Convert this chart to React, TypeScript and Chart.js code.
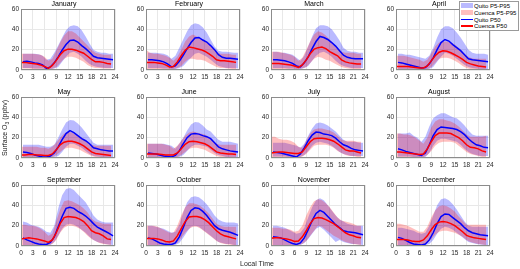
import React, { useEffect, useRef } from "react";
import { Chart, registerables } from "chart.js";
Chart.register(...registerables);

const months = ["January", "February", "March", "April", "May", "June", "July", "August", "September", "October", "November", "December"];
const quitoHours = [0.5, 1.5, 2.5, 3.5, 4.5, 5.5, 6.5, 7.5, 8.5, 9.5, 10.5, 11.5, 12.5, 13.5, 14.5, 15.5, 16.5, 17.5, 18.5, 19.5, 20.5, 21.5, 22.5, 23.5];
const cuencaHours = [0, 1, 2, 3, 4, 5, 6, 7, 8, 9, 10, 11, 12, 13, 14, 15, 16, 17, 18, 19, 20, 21, 22, 23];
const xTickStep = 3;
const yTickStep = 20;
const legendLabels = ["Quito P5-P95", "Cuenca P5-P95", "Quito P50", "Cuenca P50"];

const quitoP50 = [
  [8, 8.5, 8, 7, 6.5, 5, 1.5, 3, 7, 13, 19.5, 25, 29, 29.5, 27.5, 24, 21, 17.5, 13.5, 12, 11.5, 11, 10.5, 10],
  [10, 10, 9.5, 9, 8, 6, 3, 4, 8.5, 14.5, 21, 27, 31.5, 32, 29.5, 27.5, 24, 20, 15, 12.5, 11.5, 11.5, 11, 10.5],
  [10, 10, 9.5, 9, 8, 6.5, 4, 3, 7, 13, 21, 28, 33, 32, 30, 27, 23.5, 19, 14.5, 12.5, 11.5, 11, 11, 11],
  [7.5, 7, 6, 5, 4, 3, 2, 2.5, 6, 12, 20, 27, 30, 28.5, 25, 22, 19, 15, 11, 10, 9.5, 9, 8.5, 8],
  [6, 5.5, 4.5, 3, 2, 1, 1, 2, 5, 11, 18, 24, 27, 25, 22, 19, 17, 14, 10, 9, 8, 7.5, 7, 7],
  [5, 4.5, 4, 3, 2, 1.5, 1, 2.5, 7, 14, 20, 23.5, 24, 23.5, 22, 21, 19, 15, 11, 9, 8, 7, 6.5, 6],
  [6, 5.5, 5, 4, 3, 2, 1, 4, 10, 17, 22.5, 25.5, 25, 23.5, 23, 22, 19.5, 16, 13, 11.5, 9.5, 8, 7.5, 7],
  [9, 8, 6.5, 5.5, 4.5, 3.5, 2.5, 5, 13, 22, 28, 30.5, 30, 29.5, 29, 28, 26, 23, 19, 15.5, 13, 12, 10.5, 10],
  [8, 6, 4.5, 3, 2, 1.5, 1.5, 3.5, 9, 19, 29, 37, 38, 37, 34, 32, 29.5, 26, 22, 18.5, 16.5, 14.5, 12.5, 10],
  [8, 7, 5, 3, 2, 1.5, 1.5, 3, 9, 18, 28, 35, 37.5, 37, 34, 30, 25, 20, 17, 15.5, 14.5, 13.5, 12, 10.5],
  [9, 8.5, 8, 6, 4, 2.5, 1.5, 3, 8, 16, 25, 32, 35, 33, 29, 25, 21, 18, 15, 14, 13.5, 13, 12, 11],
  [8.5, 7.5, 5.5, 3.5, 2, 1.5, 1, 2, 6, 13, 22, 29, 31.5, 31, 28, 25, 22, 18, 15, 13, 12, 11, 10.5, 10],
];
const quitoP95 = [
  [16, 16, 16, 16, 15.5, 14, 10, 11, 17, 24, 32, 39, 43, 44, 43, 39, 33, 26, 20, 18, 17, 17, 16, 16],
  [17, 17, 17, 16.5, 16, 14.5, 11, 14, 22, 30, 38, 44, 46, 45, 42, 37, 30, 23, 19, 18, 18, 17.5, 17, 17],
  [18, 18, 17, 17, 16, 15, 12, 9, 14, 23, 33, 41, 44, 44, 43, 40, 35, 29, 22, 19, 18, 18, 17, 17],
  [16, 16, 15, 15, 14, 13, 12, 11, 14, 22, 32, 40, 43, 43, 41, 37, 32, 26, 20, 17, 16, 16, 16, 15],
  [13, 13, 13, 13, 13, 12, 11, 11, 13, 20, 28, 35, 37.5, 37, 34, 30, 25, 20, 15, 13, 13, 13, 13, 13],
  [14, 14, 14, 14, 14, 13, 12, 9, 14, 20, 27, 33, 35.5, 35, 32, 28, 26, 22, 18, 16, 16, 16, 15, 14],
  [15, 15, 15, 15, 14, 13, 12, 10, 14, 22, 29, 34, 35, 34, 32, 29, 26, 22, 18, 16, 16, 16, 15, 15],
  [24, 24, 24, 25, 22, 20, 16, 21, 31, 39, 42, 44, 44, 42, 40, 39, 36, 32, 27, 23, 22, 22, 22, 22],
  [24, 23, 21, 20, 19, 17, 14, 13, 20, 37, 50, 56, 57, 55, 51, 47, 43, 37, 30, 26, 24, 23, 23, 23],
  [20, 20, 19, 18, 17, 15, 13, 14, 21, 33, 43, 48, 49, 48, 45, 41, 36, 30, 26, 24, 23, 23, 23, 22],
  [20, 20, 19, 18, 16, 14, 12, 13, 18, 28, 38, 45, 47, 45, 40, 35, 30, 26, 24, 22, 21, 20, 20, 20],
  [18, 18, 17, 16, 15, 13, 12, 13, 20, 30, 40, 46, 47, 45, 41, 36, 30, 24, 20, 19, 19, 19, 19, 19],
];
const quitoP5 = [
  [2, 2, 2, 1.5, 1.5, 1.5, 1, 1, 1.5, 3, 8, 13, 17, 18, 16, 13, 9, 6, 4, 3, 2.5, 2, 2, 2],
  [2, 2, 2, 2, 1.5, 1.5, 1, 1, 2, 4, 8, 12, 16, 17, 15, 13, 10, 7, 4, 3, 2, 2, 2, 1.5],
  [2, 2, 2, 2, 1.5, 1.5, 1, 1, 2, 4, 9, 14, 17, 18, 16, 13, 9, 6, 4, 3, 2, 2, 2, 2],
  [1, 1, 1, 1, 1, 1, 0.5, 0.5, 1, 3, 8, 13, 17, 16, 14, 11, 8, 5, 3, 2, 1.5, 1, 1, 1],
  [1, 1, 1, 1, 0.5, 0.5, 0.5, 0.5, 1, 2, 6, 11, 14, 14, 12, 10, 7, 4, 2, 1.5, 1, 1, 1, 1],
  [1, 1, 1, 1, 0.5, 0.5, 0.5, 0.5, 1, 3, 7, 11, 13, 13, 12, 11, 8, 5, 3, 2, 1, 1, 1, 1],
  [1.5, 1.5, 1.5, 1.5, 1, 1, 1, 1, 3, 7, 12, 15, 16, 15, 14, 12, 9, 6, 4, 3, 2, 2, 2, 2],
  [1.5, 1.5, 1.5, 1.5, 1, 1, 1, 1, 5, 12, 17, 19, 19, 18, 17, 16, 13, 9, 6, 4, 3, 2, 2, 2],
  [1, 1, 1, 1, 1, 1, 1, 1, 4, 10, 17, 21, 22, 21, 19, 16, 13, 9, 6, 4, 3, 2, 1.5, 1],
  [1, 1, 1, 1, 1, 1, 1, 1, 3, 8, 14, 19, 20, 19, 16, 13, 10, 7, 4, 3, 2, 2, 1, 1],
  [1, 1, 1, 1, 1, 1, 1, 1, 3, 7, 12, 17, 19, 16, 12, 8, 4, 6, 4, 3, 2, 2, 1.5, 1],
  [1, 1, 1, 1, 1, 1, 1, 1, 2, 6, 12, 17, 19, 18, 16, 13, 10, 7, 4, 3, 2, 1.5, 1, 1],
];
const cuencaP50 = [
  [7.5, 7.5, 7, 6.5, 6, 5, 3.5, 1.5, 4.5, 9.5, 15, 19, 20.5, 20.5, 19.5, 18, 16.5, 13.5, 10.5, 8, 8, 7.5, 6.5, 6],
  [7.5, 7.5, 7.5, 7, 6.5, 5, 3, 3.5, 8, 14, 19.5, 22.5, 22, 21, 20, 18.5, 16, 13.5, 10, 9, 9, 8.5, 8, 7.5],
  [6.5, 6.5, 6.5, 6, 5.5, 5, 4, 2.5, 5, 10, 16, 20.5, 22, 22.5, 21, 18, 16, 14, 10, 8, 7, 6.5, 6, 6],
  [3.5, 3.5, 3.5, 3.5, 3, 2.5, 2, 2, 4, 9, 14, 17.5, 19, 18.5, 17, 15, 13, 10.5, 7.5, 6, 5, 4, 3.5, 3],
  [3, 3, 3.5, 3.5, 3, 3, 2.5, 2.5, 4, 8, 13, 15.5, 16.5, 16.5, 15.5, 14, 12, 9, 6, 4.5, 4, 3.5, 3, 2.5],
  [4, 4, 4, 4, 3.5, 3, 3, 3, 5, 9, 13.5, 16, 16.5, 16, 15, 14, 12, 9, 6, 5, 4.5, 4, 4, 3.5],
  [5, 5.5, 6, 6, 5.5, 5, 4.5, 4.5, 6, 11, 16, 19, 19.5, 19.5, 19, 18, 16.5, 14, 11, 8, 7, 7, 6, 5],
  [6, 6, 5.5, 5, 4.5, 4, 3.5, 4, 9, 16, 22, 24.5, 24.5, 24.5, 24, 22, 20, 17, 13, 10.5, 10, 9, 7, 6],
  [7, 7.5, 8, 7.5, 7, 6, 5, 3.5, 6, 13, 22, 28, 29, 28.5, 28, 26.5, 24, 20, 15, 13, 12, 10, 7, 6.5],
  [7.5, 7.5, 7.5, 7, 6, 4.5, 4, 5, 10, 17, 24, 28.5, 29, 29, 28, 26, 23, 19, 15, 12, 10, 9, 8, 7],
  [7.5, 8, 8, 7.5, 7, 6, 4.5, 5, 9, 15, 22, 27, 28, 27.5, 26, 24, 22, 19, 16, 13, 11, 10, 8.5, 8],
  [6.5, 6.5, 6.5, 6, 5, 4.5, 4.5, 6, 10, 16, 21, 23.5, 24, 23.5, 22, 20, 17, 14, 10.5, 9, 8, 7.5, 7, 6.5],
];
const cuencaP95 = [
  [16, 16, 16, 16, 15.5, 15, 13, 9, 11, 19, 27, 34, 38, 38, 36, 32, 28, 24, 20, 17, 16, 15, 15, 15],
  [20, 17, 16, 16, 15, 14, 12, 9, 13, 20, 28, 33, 35, 33, 31, 29, 26, 22, 18, 16, 16, 16, 15, 15],
  [18, 18, 18, 17, 16, 15, 13, 9, 12, 20, 28, 35, 38, 37, 34, 30, 26, 22, 18, 17, 17, 17, 16, 16],
  [14, 14, 14, 13, 12, 11, 10, 8, 10, 16, 23, 27, 28, 28, 27, 25, 22, 18, 14, 12, 11, 11, 11, 11],
  [11, 11, 11, 11, 11, 10, 10, 9, 11, 15, 20, 24, 26, 25, 23, 21, 19, 16, 13, 12, 12, 12, 12, 12],
  [14, 14, 14, 14, 14, 13, 12, 9, 12, 17, 22, 25, 26, 25, 24, 23, 21, 18, 14, 13, 13, 13, 13, 13],
  [21, 21, 19, 18, 18, 17, 15, 11, 10, 17, 24, 28, 29, 29, 28, 27, 25, 22, 18, 17, 17, 17, 16, 16],
  [24, 24, 23, 23, 22, 20, 17, 14, 20, 30, 36, 38, 38, 37, 36, 34, 31, 27, 23, 21, 21, 21, 21, 22],
  [21, 21, 20, 20, 19, 17, 14, 10, 12, 24, 36, 44, 45, 44, 42, 40, 37, 33, 27, 24, 23, 22, 22, 22],
  [20, 20, 20, 19, 17, 15, 13, 13, 20, 30, 38, 42, 42, 41, 39, 36, 32, 27, 22, 20, 19, 19, 19, 19],
  [18, 18, 18, 17, 17, 16, 14, 15, 20, 30, 38, 44, 46, 45, 42, 38, 33, 28, 25, 24, 23, 22, 20, 20],
  [22, 22, 21, 20, 18, 16, 14, 14, 19, 28, 35, 39, 40, 39, 37, 34, 29, 25, 21, 21, 21, 21, 21, 21],
];
const cuencaP5 = [
  [1.5, 1.5, 1.5, 1, 1, 1, 1, 0.5, 1, 3, 7, 11, 13, 13, 12, 10, 8, 5, 3, 2, 2, 1.5, 1.5, 1.5],
  [1, 1, 1, 1, 1, 1, 1, 1, 2, 4, 8, 11, 11, 10, 10, 9, 7, 5, 3, 2, 2, 1.5, 1, 1],
  [1, 1, 1, 1, 1, 1, 1, 1, 1.5, 3, 7, 11, 13, 12, 10, 9, 7, 5, 3, 2, 1.5, 1, 1, 1],
  [0.5, 0.5, 0.5, 0.5, 0.5, 0.5, 0.5, 0.5, 1, 3, 7, 11, 12, 12, 11, 9, 7, 4, 2, 1, 1, 0.5, 0.5, 0.5],
  [0.5, 0.5, 0.5, 0.5, 0.5, 0.5, 0.5, 0.5, 1, 3, 6, 9, 10, 10, 9, 8, 6, 4, 2, 1, 1, 0.5, 0.5, 0.5],
  [0.5, 0.5, 0.5, 0.5, 0.5, 0.5, 0.5, 0.5, 1, 3, 6, 9, 10, 10, 9, 8, 6, 4, 2, 1, 1, 0.5, 0.5, 0.5],
  [1, 1, 1, 1, 1, 1, 1, 1, 1.5, 4, 8, 12, 13, 13, 13, 12, 10, 7, 5, 3, 2, 2, 1, 1],
  [1, 1, 1, 1, 1, 1, 1, 1, 3, 7, 12, 15, 16, 16, 16, 15, 12, 9, 6, 4, 3, 2, 1, 1],
  [1, 1, 1, 1, 1, 1, 1, 1, 2, 6, 13, 18, 20, 20, 19, 17, 14, 10, 7, 5, 3, 2, 1.5, 1],
  [1, 1, 1, 1, 1, 1, 1, 1, 3, 8, 13, 17, 19, 19, 17, 14, 11, 8, 5, 3, 2, 1.5, 1, 1],
  [1, 1, 1, 1, 1, 1, 1, 1, 2, 5, 10, 15, 20, 19, 16, 13, 10, 8, 6, 4, 3, 2, 1.5, 1],
  [1, 1, 1, 1, 1, 1, 1, 1, 3, 7, 11, 14, 15, 15, 14, 13, 11, 9, 6, 4, 3, 2, 1.5, 1],
];

const FONT = "'Liberation Sans', Arial, Helvetica, sans-serif";
const BLUE_FILL = "rgba(0,0,255,0.27)";
const RED_FILL = "rgba(255,0,0,0.25)";
const NONE = "rgba(0,0,0,0)";

const framePlugin = {
  id: "frame",
  afterDatasetsDraw(chart: any) {
    const { ctx, chartArea: a } = chart;
    ctx.save();
    ctx.strokeStyle = "#8c8c8c";
    ctx.lineWidth = 1;
    ctx.strokeRect(a.left + 0.5, a.top + 0.5, a.right - a.left - 1, a.bottom - a.top - 1);
    ctx.restore();
  },
};

function pts(xs: number[], ys: number[]) {
  return xs.map((x, i) => ({ x, y: ys[i] }));
}

function Panel({ index, left, top }: { index: number; left: number; top: number }) {
  const ref = useRef<HTMLCanvasElement>(null);
  useEffect(() => {
    const tickFont = { family: FONT, size: 6.5 };
    const band = { borderWidth: 0, borderColor: NONE, pointRadius: 0, tension: 0 };
    const chart = new Chart(ref.current as HTMLCanvasElement, {
      type: "line",
      data: {
        datasets: [
          { label: "Cuenca P50", data: pts(cuencaHours, cuencaP50[index]), borderColor: "#ff0000", borderWidth: 1.5, pointRadius: 0, fill: false, tension: 0 },
          { label: "Quito P50", data: pts(quitoHours, quitoP50[index]), borderColor: "#0000ff", borderWidth: 1.5, pointRadius: 0, fill: false, tension: 0 },
          { label: "Cuenca P95", data: pts(cuencaHours, cuencaP95[index]), ...band, backgroundColor: RED_FILL, fill: 3 },
          { label: "Cuenca P5", data: pts(cuencaHours, cuencaP5[index]), ...band, fill: false },
          { label: "Quito P95", data: pts(quitoHours, quitoP95[index]), ...band, backgroundColor: BLUE_FILL, fill: 5 },
          { label: "Quito P5", data: pts(quitoHours, quitoP5[index]), ...band, fill: false },
        ],
      } as any,
      options: {
        responsive: false,
        animation: false,
        devicePixelRatio: 1,
        events: [],
        layout: { padding: { left: 3, right: 0, top: 0, bottom: 0 } },
        plugins: {
          legend: { display: false },
          tooltip: { enabled: false },
          title: {
            display: true,
            text: months[index],
            color: "#000",
            padding: 0,
            font: { family: FONT, size: 7, weight: "normal", lineHeight: 9 / 7 },
          },
        },
        scales: {
          x: {
            type: "linear",
            min: 0,
            max: 24,
            afterFit: (s: any) => { s.height = 18; },
            ticks: { stepSize: xTickStep, autoSkip: false, maxRotation: 0, padding: 3, font: tickFont, color: "#262626" },
            grid: { color: "#e8e8e8", drawTicks: false },
            border: { display: false },
          },
          y: {
            type: "linear",
            min: 0,
            max: 60,
            afterFit: (s: any) => { s.width = 18; },
            ticks: { stepSize: yTickStep, padding: 2, font: tickFont, color: "#262626" },
            grid: { color: "#e8e8e8", drawTicks: false },
            border: { display: false },
          },
          yR: {
            type: "linear",
            position: "right",
            display: true,
            afterFit: (s: any) => { s.width = 10; },
            ticks: { display: false },
            grid: { display: false },
            border: { display: false },
          },
        },
      } as any,
      plugins: [framePlugin],
    });
    return () => chart.destroy();
  }, [index]);
  return (
    <canvas
      ref={ref}
      width={125}
      height={88}
      style={{ position: "absolute", left, top, width: 125, height: 88, display: "block" }}
    />
  );
}

const legendSwatches = [
  { kind: "patch", color: BLUE_FILL },
  { kind: "patch", color: RED_FILL },
  { kind: "line", color: "#0000ff" },
  { kind: "line", color: "#ff0000" },
];

export default function App() {
  return (
    <div style={{ position: "absolute", left: 0, top: 0, width: 520, height: 269, background: "#fff", overflow: "hidden", fontFamily: FONT }}>
      {months.map((m, i) => (
        <Panel key={m} index={i} left={(i % 4) * 125} top={Math.floor(i / 4) * 88} />
      ))}
      <div
        style={{
          position: "absolute", left: 5 - 50, top: 128 - 5, width: 100, height: 10, lineHeight: "10px",
          fontSize: 7, textAlign: "center", color: "#262626", transform: "rotate(-90deg)", whiteSpace: "nowrap",
        }}
      >
        Surface O<sub style={{ fontSize: 5, verticalAlign: "-1.5px", lineHeight: 0 }}>3</sub> (ppbv)
      </div>
      <div
        style={{
          position: "absolute", left: 257 - 50, top: 264 - 5, width: 100, height: 10, lineHeight: "10px",
          fontSize: 7, textAlign: "center", color: "#262626", whiteSpace: "nowrap",
        }}
      >
        Local Time
      </div>
      <div
        style={{
          position: "absolute", left: 459, top: 1, width: 60, height: 30, boxSizing: "border-box",
          border: "1px solid #9a9a9a", background: "#fff",
        }}
      >
        {legendLabels.map((lab, i) => {
          const sw = legendSwatches[i];
          const cy = [4.5, 11.5, 18.5, 25][i] - 1;
          return (
            <React.Fragment key={lab}>
              <div
                style={{
                  position: "absolute", left: 1, top: sw.kind === "patch" ? cy - 2.5 : cy - 0.75, width: 12,
                  height: sw.kind === "patch" ? 5 : 1.5, background: sw.color,
                }}
              />
              <div
                style={{
                  position: "absolute", left: 14, top: cy - 4, height: 8, lineHeight: "8px", fontSize: 6,
                  color: "#000", whiteSpace: "nowrap",
                }}
              >
                {lab}
              </div>
            </React.Fragment>
          );
        })}
      </div>
    </div>
  );
}
